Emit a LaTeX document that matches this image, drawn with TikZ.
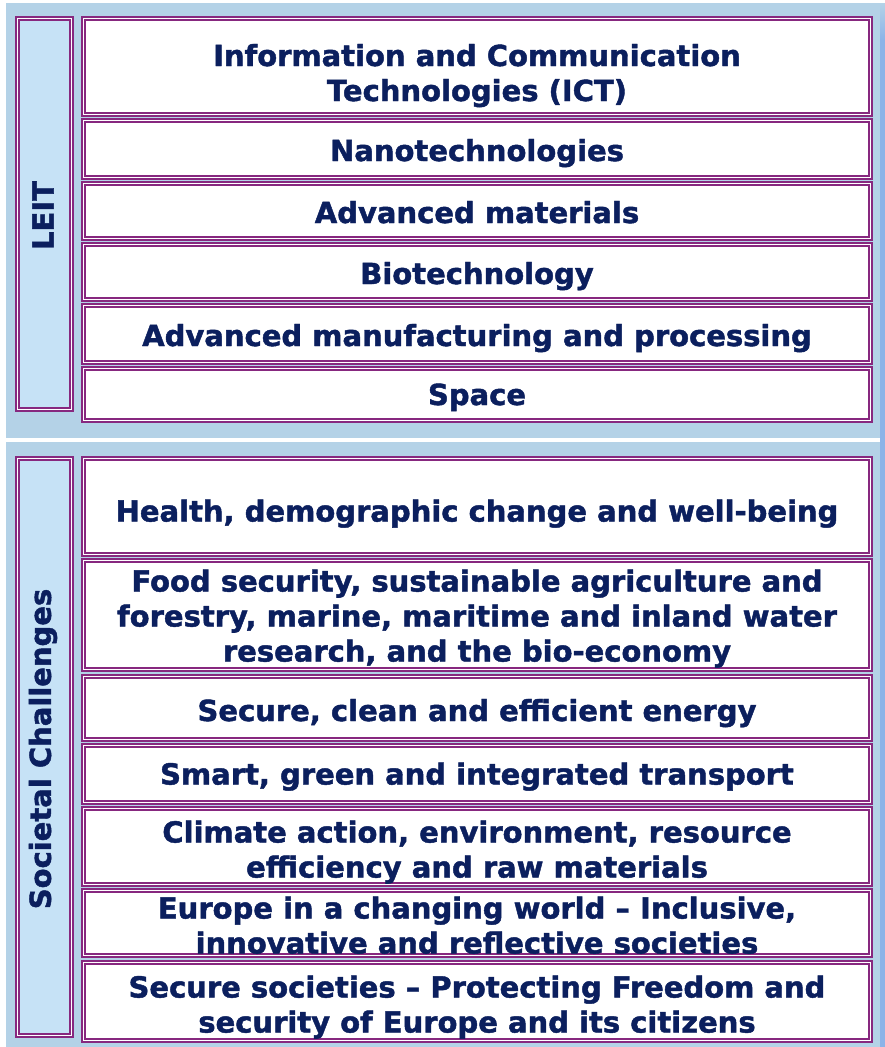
\documentclass[tikz,border=0pt]{standalone}
\usepackage{fontspec}
\setmainfont{DejaVu Sans}
\newfontfamily\heavyfont{DejaVu Sans Bold}[FakeBold=1.5]
\definecolor{panelblue}{HTML}{B4D2E7}
\definecolor{labelblue}{HTML}{C6E2F6}
\definecolor{edgeplum}{HTML}{87287F}
\definecolor{textnavy}{HTML}{0B1F5E}
\definecolor{stripblue}{HTML}{8CB3E8}
\newcommand\topicdrop{33pt}
\begin{document}
\begin{tikzpicture}[x=1pt,y=-1pt,
  topic/.style={rectangle, draw=edgeplum, double=white, double distance=1.8pt,
    line width=1.2pt, fill=white, minimum width=787pt, inner sep=0pt, align=center,
    text=textnavy, font=\fontsize{29}{35}\heavyfont,
    execute at begin node={\rule{0pt}{\topicdrop}},
    execute at end node={\rule[-9pt]{0pt}{0pt}}},
  textdrop/.code={\renewcommand\topicdrop{#1}},
  lines/.style={text height=#1, text depth=0pt},
  group/.style={rectangle, draw=edgeplum, double=white, double distance=1.8pt,
    line width=1.2pt, fill=labelblue, minimum width=54pt, inner sep=0pt},
  grouptext/.style={rotate=90, text=textnavy, font=\fontsize{29}{35}\heavyfont}]
  \useasboundingbox (0,0) rectangle (885,1047);
  \fill[panelblue] (6,3) rectangle (880,438);
  \fill[panelblue] (6,442) rectangle (880,1047);
  \shade[top color=panelblue, bottom color=stripblue] (880,3) rectangle (885,40);
  \fill[stripblue] (880,40) rectangle (885,1047);

  % LEIT
  \node[group, minimum height=391pt] (leit) at (44.5,214) {};
  \node[grouptext] (leitlabel) at (43,215.5) {LEIT};

  \node[topic, lines=69pt, minimum height=96pt] (ict) at (477,66.5) {Information and Communication\\Technologies (ICT)};
  \node[topic, minimum height=57pt] (nano) at (477,149) {Nanotechnologies};
  \node[topic, minimum height=55pt] (advmat) at (477,211) {Advanced materials};
  \node[topic, minimum height=55pt] (biotech) at (477,272) {Biotechnology};
  \node[topic, minimum height=57pt] (manuf) at (477,334) {Advanced manufacturing and processing};
  \node[topic, textdrop=30pt, minimum height=52pt] (space) at (477,394.5) {Space};

  % Societal Challenges
  \node[group, minimum height=577pt] (sc) at (44.5,747) {};
  \node[grouptext] (sclabel) at (43,749) {Societal Challenges};

  \node[topic, textdrop=39pt, minimum height=96pt] (health) at (477,506.5) {Health, demographic change and well-being};
  \node[topic, lines=93pt, minimum height=109pt] (food) at (477,615) {Food security, sustainable agriculture and\\forestry, marine, maritime and inland water\\research, and the bio-economy};
  \node[topic, textdrop=35pt, minimum height=63pt] (energy) at (477,708) {Secure, clean and efficient energy};
  \node[topic, textdrop=30pt, minimum height=57pt] (transport) at (477,774) {Smart, green and integrated transport};
  \node[topic, lines=62pt, minimum height=76pt] (climate) at (477,846.5) {Climate action, environment, resource\\efficiency and raw materials};
  \node[topic, lines=61pt, minimum height=65pt] (europe) at (477,923) {Europe in a changing world – Inclusive,\\innovative and reflective societies};
  \node[topic, lines=62pt, minimum height=78pt] (secure) at (477,1001.5) {Secure societies – Protecting Freedom and\\security of Europe and its citizens};
\end{tikzpicture}
\end{document}
